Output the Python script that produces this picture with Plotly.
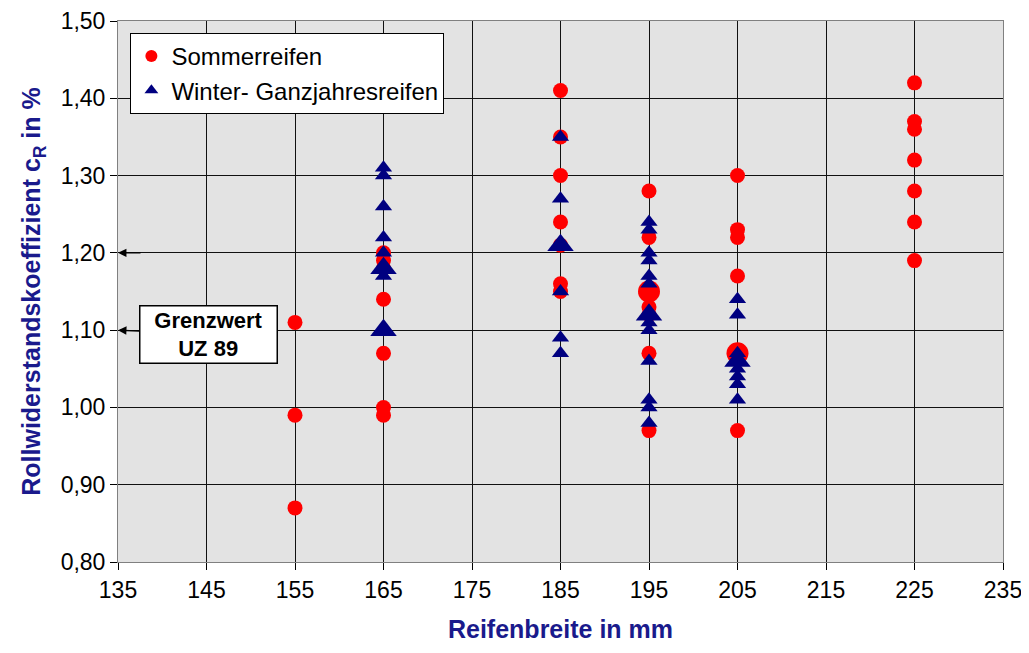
import plotly.graph_objects as go

# Data
sommer_x = [155, 155, 155,
            165, 165, 165, 165, 165, 165, 165,
            185, 185, 185, 185, 185, 185, 185,
            195, 195, 195, 195, 195, 195, 195,
            205, 205, 205, 205, 205, 205,
            225, 225, 225, 225, 225, 225, 225]
sommer_y = [1.11, 0.99, 0.87,
            1.20, 1.19, 1.18, 1.14, 1.07, 1.00, 0.99,
            1.41, 1.35, 1.30, 1.24, 1.21, 1.16, 1.15,
            1.28, 1.22, 1.15, 1.13, 1.12, 1.07, 0.97,
            1.30, 1.23, 1.22, 1.17, 1.07, 0.97,
            1.42, 1.37, 1.36, 1.32, 1.28, 1.24, 1.19]
sommer_n = [1, 1, 1,
            1, 1, 1, 1, 1, 1, 1,
            1, 1, 1, 1, 1, 1, 1,
            1, 1, 2, 1, 1, 1, 1,
            1, 1, 1, 1, 2, 1,
            1, 1, 1, 1, 1, 1, 1]

winter_x = [165, 165, 165, 165, 165, 165, 165, 165,
            185, 185, 185, 185, 185, 185,
            195, 195, 195, 195, 195, 195, 195, 195, 195, 195, 195, 195, 195,
            205, 205, 205, 205, 205, 205, 205, 205]
winter_y = [1.31, 1.30, 1.26, 1.22, 1.20, 1.18, 1.17, 1.10,
            1.35, 1.27, 1.21, 1.15, 1.09, 1.07,
            1.24, 1.23, 1.20, 1.19, 1.17, 1.16, 1.12, 1.11, 1.10, 1.06, 1.01, 1.00, 0.98,
            1.14, 1.12, 1.07, 1.06, 1.05, 1.04, 1.03, 1.01]
winter_n = [1, 1, 1, 1, 1, 2, 1, 2,
            1, 1, 2, 1, 1, 1,
            1, 1, 1, 1, 1, 1, 2, 1, 1, 1, 1, 1, 1,
            1, 1, 1, 2, 1, 1, 1, 1]

x_ticks = [135, 145, 155, 165, 175, 185, 195, 205, 215, 225, 235]
y_ticks = [0.80, 0.90, 1.00, 1.10, 1.20, 1.30, 1.40, 1.50]

grenzwerte = [1.20, 1.10]

NAVY = "#000080"
TITLE_COL = "#1a1a8c"
FONT = "Arial, Liberation Sans, sans-serif"

fig = go.Figure()
fig.add_trace(go.Scatter(
    x=sommer_x, y=sommer_y, mode="markers", name="Sommerreifen",
    marker=dict(symbol="circle", color="#ff0000", opacity=1,
                size=[15 if n == 1 else 22 for n in sommer_n], line=dict(width=0)),
))
fig.add_trace(go.Scatter(
    x=winter_x, y=winter_y, mode="markers", name="Winter- Ganzjahresreifen",
    marker=dict(symbol="triangle-up", color=NAVY, opacity=1,
                size=[15 if n == 1 else 23 for n in winter_n], line=dict(width=0)),
))

# Arrow at upper limit
fig.add_annotation(x=135, y=grenzwerte[0], xref="x", yref="y", text="",
                   showarrow=True, arrowhead=2, arrowsize=1.3, arrowwidth=1.3,
                   arrowcolor="black", ax=24, ay=0)
# Box with arrow at lower limit
fig.add_annotation(x=135, y=grenzwerte[1], xref="x", yref="y",
                   text="<b>Grenzwert<br>UZ 89</b>",
                   font=dict(family=FONT, size=22, color="black"),
                   showarrow=True, arrowhead=2, arrowsize=1.3, arrowwidth=1.3,
                   arrowcolor="black", ax=90, ay=4,
                   bgcolor="white", bordercolor="black", borderwidth=1.5,
                   borderpad=1, width=134, align="center")

fig.update_layout(
    width=1029, height=653,
    separators=",.",
    paper_bgcolor="white", plot_bgcolor="#e3e3e3",
    margin=dict(l=110, r=34, t=13, b=99, autoexpand=False),
    font=dict(family=FONT, size=23, color="black"),
    showlegend=True,
    legend=dict(x=0.014, y=0.978, xanchor="left", yanchor="top",
                bgcolor="white", bordercolor="black", borderwidth=1,
                font=dict(size=24), itemsizing="constant", tracegroupgap=0,
                itemwidth=30),
    xaxis=dict(range=[135, 235], tickvals=x_ticks, showgrid=True,
               gridcolor="#111111", gridwidth=1, zeroline=False,
               showline=True, linecolor="#808080", mirror=True,
               ticks="outside", ticklen=7, tickcolor="black",
               tickfont=dict(size=23), automargin=False,
               title=dict(text="<b>Reifenbreite in mm</b>",
                          font=dict(size=25, color=TITLE_COL), standoff=18)),
    yaxis=dict(range=[0.80, 1.50], tickvals=y_ticks, tickformat=".2f",
               showgrid=True, gridcolor="#111111", gridwidth=1, zeroline=False,
               showline=True, linecolor="#808080", mirror=True,
               ticks="outside", ticklen=7, tickcolor="black",
               tickfont=dict(size=23), automargin=False,
               title=dict(text="<b>Rollwiderstandskoeffizient c<sub>R</sub> in %</b>",
                          font=dict(size=25, color=TITLE_COL), standoff=12)),
)

fig.write_html("out.html")
